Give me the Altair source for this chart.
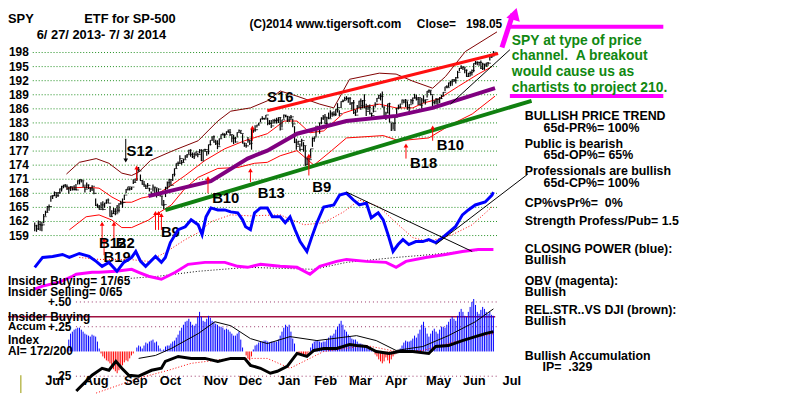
import altair as alt
import pandas as pd

FONT = "Liberation Sans"
NB = "\u00a0"

# ---------------- price bars (SPY, 6/27/2013 - 7/3/2014) ----------------
closes = [161.08,160.42,
 161.36,161.21,161.28,163.02,163.95,165.13,165.19,167.44,167.51,168.15,167.52,168.11,168.94,169.40,169.71,169.40,168.94,169.30,169.42,168.87,168.84,168.71,
 170.66,170.95,170.70,169.73,168.87,169.76,169.11,168.95,169.50,168.00,165.46,165.10,164.55,165.53,164.56,165.94,166.58,165.90,163.03,163.68,164.17,163.65,
 164.39,165.75,165.96,166.04,167.63,168.87,169.40,168.95,169.33,170.31,171.07,173.05,172.76,170.72,169.93,169.53,169.04,169.69,168.91,168.01,
 169.34,169.18,167.62,168.89,167.43,165.48,165.60,169.17,170.26,170.94,169.70,172.07,173.27,174.40,174.40,175.40,174.57,175.15,175.95,176.23,177.17,176.29,175.79,
 176.21,176.83,176.27,177.17,174.93,177.29,177.32,176.96,178.38,179.29,180.05,178.94,178.57,177.95,179.62,180.55,180.40,180.51,181.12,181.00,
 180.53,179.75,179.73,178.94,180.94,181.40,180.75,178.72,178.13,178.11,179.22,178.65,181.70,181.49,181.56,182.53,183.01,183.89,183.95,183.82,184.69,
 182.92,182.89,182.36,183.48,183.52,183.64,184.14,181.69,183.67,184.66,184.42,183.64,184.18,184.30,182.79,178.89,178.01,179.07,177.35,179.23,178.18,
 174.17,175.39,175.17,177.48,179.68,180.01,181.98,182.07,183.01,184.02,184.24,182.86,184.08,183.89,184.91,184.84,184.85,185.82,186.29,
 184.98,187.58,187.75,188.18,188.26,188.16,187.23,187.28,185.18,184.66,186.33,187.66,186.66,187.75,186.20,185.43,186.31,184.97,184.58,185.49,187.01,
 188.25,188.88,188.63,186.40,184.34,185.10,187.09,183.16,181.51,182.94,184.20,186.13,186.39,187.04,187.89,187.45,187.83,186.29,186.88,187.75,188.31,
 188.33,188.06,188.42,186.78,187.88,187.68,187.96,189.79,189.96,189.06,187.40,187.66,188.05,186.80,188.18,188.73,189.53,190.71,190.52,191.52,191.78,
 192.20,192.07,192.63,193.78,194.66,194.92,194.87,194.23,192.91,193.55,193.75,194.18,195.68,195.92,195.94,195.87,194.65,195.54,195.32,195.77,195.72,
 197.03,197.23,198.05]
highs = [161.8,161.3,
 162.2,162.1,161.9,163.6,164.3,165.3,165.6,167.5,167.6,168.4,168.2,168.3,169.0,169.6,169.8,170.0,169.9,169.4,169.5,169.3,169.7,170.0,
 170.8,171.0,170.9,170.7,169.5,170.3,169.9,169.2,169.7,169.1,166.9,165.8,165.5,166.1,166.3,166.0,166.7,166.9,165.3,164.4,164.9,164.8,
 165.5,165.9,166.4,166.9,167.7,168.9,169.4,169.3,169.4,171.0,171.1,173.3,173.6,172.0,170.8,170.6,169.9,170.2,169.2,168.4,
 169.9,169.3,169.1,169.1,168.2,167.5,166.6,169.4,170.5,171.1,170.9,172.1,173.3,174.4,174.8,176.1,175.1,175.4,176.1,176.4,177.3,177.4,176.7,
 176.7,176.9,176.6,177.4,177.4,177.3,177.5,177.0,178.4,179.3,180.1,180.3,179.4,179.3,179.7,180.6,180.9,180.8,181.2,181.6,
 181.7,180.4,180.5,180.0,181.0,181.6,181.3,180.6,178.8,178.7,180.0,179.3,181.7,181.6,182.5,182.6,183.0,183.9,184.4,184.1,184.7,
 184.1,183.6,183.6,183.8,183.9,184.1,184.2,184.2,183.7,184.8,184.7,184.5,184.4,184.7,183.9,182.3,179.6,179.2,178.6,179.6,178.9,
 178.1,175.8,175.6,177.5,179.9,180.1,182.4,182.4,183.1,184.2,184.7,184.9,184.3,185.2,185.7,185.4,185.5,185.9,187.2,
 185.7,187.6,188.0,188.6,188.7,188.4,188.5,187.4,187.9,185.8,186.8,187.7,188.2,187.9,189.1,187.1,186.8,186.9,185.2,186.6,187.4,
 188.3,189.0,189.3,189.7,186.5,185.4,187.1,187.3,183.0,183.1,184.4,186.2,186.9,187.1,188.0,187.9,188.1,187.6,187.0,188.1,188.4,
 189.2,189.0,188.5,188.3,188.3,188.9,188.0,189.8,190.1,189.9,188.9,187.8,188.3,188.2,188.5,189.0,189.6,190.7,191.0,191.6,192.0,
 192.3,192.3,192.8,194.1,194.7,195.3,195.0,194.8,194.4,193.7,194.0,194.4,195.7,196.2,196.1,196.0,196.3,195.8,195.6,195.8,196.0,
 197.7,197.5,198.3]
lows = [159.9,159.8,
 160.2,160.0,159.9,161.6,163.2,163.9,164.3,166.2,166.8,167.4,167.0,167.2,167.9,168.4,169.1,169.3,168.7,167.9,168.5,168.6,168.6,168.6,
 169.9,169.9,170.3,169.3,168.2,169.0,168.9,168.3,168.5,167.8,165.3,164.9,164.5,164.7,164.4,164.9,165.8,165.9,163.0,163.0,163.6,163.3,
 163.8,163.9,165.6,164.9,166.6,168.0,168.6,168.6,168.7,170.0,170.3,170.6,172.6,170.6,169.8,169.4,168.9,169.2,168.4,167.4,
 168.4,167.9,167.1,167.5,167.3,165.4,164.6,167.2,168.8,169.3,169.6,170.6,171.6,173.3,173.8,174.3,174.1,174.6,175.2,175.5,176.3,175.8,175.5,
 175.3,176.0,175.7,176.5,174.9,175.0,176.8,176.0,176.3,178.2,179.3,178.8,178.3,177.4,178.2,179.6,180.3,179.8,180.6,180.9,
 180.2,178.9,178.5,178.8,179.9,181.0,180.7,178.6,177.9,177.7,178.8,178.3,177.3,180.9,181.1,182.0,182.5,183.2,183.7,183.7,183.9,
 182.5,182.6,181.9,182.9,182.9,182.9,183.0,181.4,182.0,183.9,184.2,183.2,183.2,183.6,182.1,178.7,177.3,178.3,177.0,178.0,176.9,
 173.8,174.1,173.7,175.4,177.9,179.0,180.1,181.7,180.7,182.7,183.6,182.8,182.6,183.8,184.0,184.3,184.4,184.5,185.2,
 184.4,186.2,187.4,187.8,187.8,187.3,186.8,185.8,184.9,184.5,185.2,186.3,185.8,186.1,186.1,184.5,185.7,184.8,183.9,185.2,186.3,
 187.4,188.2,187.8,186.3,184.0,183.6,185.1,183.1,181.3,181.7,181.3,184.9,185.9,186.1,187.2,187.2,186.4,185.8,184.7,187.1,187.0,
 188.2,187.8,186.8,186.7,186.0,187.3,186.9,188.4,189.4,188.9,186.4,186.9,186.9,186.5,187.2,188.1,188.7,189.8,190.4,190.6,190.8,
 190.9,191.7,191.4,192.5,194.0,194.5,194.3,193.6,192.8,192.8,192.9,193.1,193.8,195.4,195.3,195.2,194.5,194.3,194.3,194.9,195.2,
 196.3,196.9,197.3]

# bands / trend lines: (day index, price)
upper_band_d = [17.7,24.9,34.3,41.4,48.6,54.1,58.0,64.6,77.3,91.2,102.2,109.4,120.4,129.8,137.0,146.4,159.1,166.9,175.7,192.3,201.7,211.0,222.1,229.3,240.3,258.0]
upper_band_p = [172.1,174.6,175.4,174.4,172.3,171.8,172.5,175.0,177.1,179.2,183.4,185.5,186.2,187.7,189.8,188.7,187.0,186.2,192.3,193.6,193.4,191.9,190.4,192.9,198.2,202.4]
mid_band_d = [17.7,28.7,35.9,43.1,48.6,54.1,59.7,67.4,76.2,84.0,95.0,106.1,117.1,129.8,139.2,146.4,153.6,161.3,172.4,181.2,192.3,201.7,211.0,216.6,225.4,236.5,247.5,255.2]
mid_band_p = [169.1,169.3,169.1,167.2,166.1,166.1,167.0,167.6,169.7,171.8,175.0,177.5,179.2,180.7,183.4,183.4,180.9,181.3,185.1,186.2,187.0,186.2,186.2,187.2,188.1,190.8,193.4,195.0]
low_band_d = [19.3,28.7,35.9,43.1,48.6,54.1,63.5,69.1,76.2,84.0,91.2,102.2,113.3,122.7,129.8,137.0,146.4,155.8,165.7,174.0,194.5,203.3,219.9,233.1,244.2,256.9]
low_band_p = [160.2,163.0,163.4,162.3,160.7,160.7,162.3,163.8,165.5,169.1,171.4,173.3,173.5,174.4,174.6,176.0,177.1,174.0,177.1,179.8,180.3,179.2,179.8,182.8,184.9,188.7]
ma65_d = [63.5,98.3,118.8,129.8,146.4,174.0,201.7,222.1,256.9]
ma65_p = [167.4,170.6,175.4,177.1,180.7,183.4,184.5,186.2,190.4]
resist_d = [129.8,258.6]
resist_p = [185.6,197.8]
support_d = [72.9,277.3]
support_p = [164.4,187.7]
channel_d = [232.0,265.2]
channel_p = [187.0,198.6]

# signal arrows (day index, tip price, tail price)
buy_d = [37.6,44.2,38.7,67.4,69.1,70.7,96.7,120.4,121.5,56.9,153.0,207.2,222.1]
buy_top = [161.5,161.5,158.1,163.8,163.8,163.4,171.2,172.9,182.0,173.5,176.0,178.2,182.0]
buy_bot = [158.1,158.1,154.8,160.2,160.2,160.2,168.0,170.4,179.2,170.8,171.8,175.4,179.2]
sell_d = [50.8]
sell_top = [179.6]
sell_bot = [175.0]
sig_text = ["S12","S16","B10","B13","B9","B9","B18","B10","B12","B2","B19"]
sig_d = [58.6,137.0,106.6,132.0,75.7,160.2,217.0,232.0,43.5,50.5,46.0]
sig_p = [177.1,188.5,167.0,168.0,159.8,169.3,174.4,178.2,157.5,157.5,154.5]

# closing power (blue) and its MA, OBV (magenta) and its MA  (panel units)
cp_d = [0,4.4,10,15.5,19.3,24.9,30.4,34.3,37.6,41.4,45.9,49.7,54.1,56.4,59.1,61.9,67.4,70.7,72.9,75.7,80.1,84,87.3,91.2,93.4,95.6,98.3,102.2,106.1,109.4,113.3,116,117.7,120.4,122.7,126,129.8,132.6,137,139.8,142.5,145.3,148.1,151.9,154.7,157.5,161.3,166.9,170.2,174,177.9,181.2,185.1,187.8,191.7,194.5,197.2,200,202.8,205.5,208.8,212.7,216.6,219.9,223.8,227.6,230.9,234.8,238.7,242,245.9,251.4,255.2,256]
cp_v = [12,22,23,25,22,26,23,18,13,17,8,17,22,28,18,13,23,17,22,37,50,53,60,55,45,63,72,70,70,68,67,60,53,50,67,72,72,63,63,57,63,50,38,28,43,57,73,75,85,87,80,75,77,62,67,60,45,28,35,40,35,38,38,40,37,42,47,53,65,70,75,78,85,88]
cpma_d = [24.9,35.9,52.5,63.5,72.9,84,91.2,98.3,109.4,120.4,137,150.3,161.3,172.4,181.2,192.3,201.7,211,219.9,233.1,244.2,255.2]
cpma_v = [22,20,20,18,27,40,47,58,65,64,65,55,57,68,80,73,57,42,38,45,55,73]
obv_d = [0,4.4,13.8,21,23.2,32,35.9,45.3,54.1,58,63.5,70.7,78.5,85.6,95,106.1,113.3,118.8,126,137,146.4,153.6,159.1,168.5,174,185.1,196.1,201.7,207.2,218.2,229.3,238.7,247.5,256]
obv_v = [-10,-7,-3,3,5,7,7,8,10,7,3,0,7,15,17,17,13,12,15,13,12,5,13,18,20,18,17,12,18,22,25,28,30,30]
obvma_d = [47,69,91.2,118.8,155.8,174,201.7,222.1,238.7,256]
obvma_v = [0,3,8,12,10,17,22,25,28,30]
cp_down_d = [174.0,244.2]
cp_down_v = [88,28]
cp_up_d = [223.8,275.1]
cp_up_v = [35,106]

# accumulation index, day by day from day 19
ai = [0.12,0.18,0.20,0.22,0.23,0.24,0.24,0.22,0.20,0.18,0.17,0.16,0.15,0.17,0.16,0.15,0.10,0.03,
      -0.02,-0.05,-0.07,-0.09,-0.10,-0.12,-0.15,-0.18,-0.20,-0.22,-0.19,-0.16,-0.14,-0.11,-0.09,-0.10,-0.07,-0.04,-0.02,0.00,
      0.04,0.06,0.05,0.03,0.06,0.09,0.08,0.10,0.11,0.12,0.09,0.10,0.06,0.03,0.01,0.02,0.05,0.06,0.06,
      0.08,0.10,0.11,0.14,0.17,0.21,0.24,0.27,0.30,0.31,0.33,0.30,0.27,0.26,0.28,0.35,0.40,0.35,0.31,0.30,0.33,0.36,0.34,0.31,0.30,
      0.28,0.27,0.25,0.25,0.24,0.22,0.23,0.22,0.20,0.18,0.16,0.16,0.18,0.20,0.12,0.04,0.00,-0.04,-0.07,-0.09,-0.05,0.02,0.06,0.07,0.09,0.10,0.10,0.11,0.11,0.10,
      0.09,0.10,0.10,0.10,0.10,0.12,0.16,0.20,0.24,0.27,0.25,0.27,0.20,0.13,0.08,0.00,-0.02,-0.03,-0.04,-0.03,
      -0.05,-0.04,-0.01,0.04,0.08,0.10,0.11,0.11,0.10,0.09,0.10,0.10,0.12,0.14,0.16,0.16,0.18,0.22,0.25,0.28,0.31,0.27,0.22,0.20,0.17,0.15,0.13,0.12,0.12,0.10,
      0.08,0.08,0.07,0.05,0.05,0.04,0.03,0.01,0.00,-0.03,-0.05,-0.08,-0.10,-0.12,-0.10,-0.06,-0.09,-0.12,-0.08,-0.05,-0.03,-0.02,0.00,0.03,0.06,0.09,
      0.11,0.10,0.10,0.11,0.13,0.16,0.14,0.18,0.22,0.27,0.30,0.24,0.18,0.15,0.18,0.21,0.23,0.20,0.18,0.22,0.25,0.25,0.24,0.27,
      0.30,0.33,0.35,0.33,0.31,0.36,0.40,0.43,0.40,0.36,0.35,0.40,0.45,0.50,0.53,0.47,0.40,0.38,0.42,0.45,0.43,0.40,0.38,0.40,0.37,0.36]
ai_start = 19
rs_d = [23.2,32,37.6,41.4,45.3,48.6,52.5,58,65.2,70.7,72.9,80.1,87.3,95,102.2,109.4,117.1,120.4,126,131.5,135.4,140.9,146.4,151.9,155.8,161.3,168.5,175.7,179.6,185.1,190.6,197.8,203.3,211,219.9,223.8,230.9,238.7,245.9,251.4,256]
rs_v = [-0.40,-0.24,-0.17,-0.19,-0.10,-0.17,-0.24,-0.25,-0.19,-0.17,-0.10,-0.05,-0.07,-0.07,-0.10,-0.07,-0.07,-0.14,-0.17,-0.22,-0.20,-0.15,-0.02,-0.05,0.01,0.03,0.03,0.07,0.06,0.05,0.00,-0.02,0.00,0.00,-0.02,0.05,0.06,0.11,0.15,0.18,0.20]
rsma_d = [34.3,58,74.6,87.3,109.4,129.8,142.5,161.3,185.1,201.7,216.6,234.8,256]
rsma_v = [-0.42,-0.27,-0.19,-0.12,-0.07,-0.07,-0.17,0.00,0.06,0.00,0.01,0.10,0.18]
aima_d = [58,67.4,76.2,91.2,100.6,109.4,120.4,129.8,142.5,157.5,179.6,190.6,201.7,216.6,230.9,245.9,256]
aima_v = [-0.07,-0.04,0.03,0.18,0.30,0.26,0.13,0.08,0.15,0.11,0.16,0.11,0.01,0.05,0.16,0.30,0.43]

grid_prices = [198,195,192,189,186,183,180,177,174,171,168,165,162,159]
ai_grid = [0.50,0.25,-0.25]
ai_grid_labels = ["+.50","+.25","-" + NB + ".25"]
insider_level = [0.35]
month_names = ["Jul","Aug","Sep","Oct","Nov","Dec","Jan","Feb","Mar","Apr","May","Jun","Jul"]
month_pos = [11.0,34.3,56.4,75.7,101.1,120.4,142.0,162.4,181.8,201.7,225.4,245.3,266.3]

# ---------------- scales ----------------
def xs():
    return alt.Scale(domain=[0, 256], range=[27, 27 + 256 * 1.81], nice=False, zero=False)

def X(f):
    return alt.X(f, type="quantitative", scale=xs(), axis=None)

def YP(f):
    return alt.Y(f, type="quantitative", scale=alt.Scale(domain=[159, 198], range=[227.9, 43], nice=False, zero=False), axis=None)

def YC(f):
    return alt.Y(f, type="quantitative", scale=alt.Scale(domain=[0, 100], range=[272, 172], nice=False, zero=False), axis=None)

def YA(f):
    return alt.Y(f, type="quantitative", scale=alt.Scale(domain=[-0.25, 0.5], range=[370, 295], nice=False, zero=False), axis=None)

def line_df(d, v):
    return pd.DataFrame({"d": d, "v": v})

n = min(len(closes), len(highs), len(lows))
bars = pd.DataFrame({"d": list(range(n)), "c": closes[:n], "h": highs[:n], "l": lows[:n]})
ai_df = pd.DataFrame({"d": list(range(ai_start, ai_start + len(ai))), "a": ai, "z": [0.0] * len(ai)})

layers = []

# price gridlines (green dotted)
gdf = pd.DataFrame({"p": grid_prices, "d0": [-1.1] * len(grid_prices), "d1": [258.0] * len(grid_prices)})
layers.append(alt.Chart(gdf).mark_rule(color="#1f8f1f", strokeDash=[1, 2], strokeWidth=1).encode(
    x=X("d0"), x2=alt.X2("d1"), y=YP("p")))
layers.append(alt.Chart(gdf).mark_text(font=FONT, fontWeight="bold", fontSize=12, align="right", baseline="middle", color="black").encode(
    x=alt.value(21), y=YP("p"), text=alt.Text("p:Q")))

# bands
for d, p, col, w in [(upper_band_d, upper_band_p, "#800000", 1), (mid_band_d, mid_band_p, "#ff0000", 1), (low_band_d, low_band_p, "#ff0000", 1)]:
    layers.append(alt.Chart(line_df(d, p)).mark_line(color=col, strokeWidth=w).encode(x=X("d"), y=YP("v")))

# price bars
layers.append(alt.Chart(bars).mark_rule(color="black", strokeWidth=1.2).encode(x=X("d"), y=YP("l"), y2=alt.Y2("h")))
layers.append(alt.Chart(bars).mark_tick(color="black", orient="horizontal", size=3, thickness=1, xOffset=1.5).encode(x=X("d"), y=YP("c")))

# trend lines
layers.append(alt.Chart(line_df(ma65_d, ma65_p)).mark_line(color="#800080", strokeWidth=4).encode(x=X("d"), y=YP("v")))
layers.append(alt.Chart(line_df(support_d, support_p)).mark_line(color="#108010", strokeWidth=4).encode(x=X("d"), y=YP("v")))
layers.append(alt.Chart(line_df(resist_d, resist_p)).mark_line(color="#ff1010", strokeWidth=3).encode(x=X("d"), y=YP("v")))
layers.append(alt.Chart(line_df(channel_d, channel_p)).mark_line(color="black", strokeWidth=1).encode(x=X("d"), y=YP("v")))

# signal arrows
bdf = pd.DataFrame({"d": buy_d, "t": buy_top, "b": buy_bot})
layers.append(alt.Chart(bdf).mark_rule(color="red", strokeWidth=1).encode(x=X("d"), y=YP("t"), y2=alt.Y2("b")))
layers.append(alt.Chart(bdf).mark_point(shape="triangle-up", filled=True, size=22, color="red", opacity=1).encode(x=X("d"), y=YP("t")))
sdf = pd.DataFrame({"d": sell_d, "t": sell_top, "b": sell_bot})
layers.append(alt.Chart(sdf).mark_rule(color="black", strokeWidth=1).encode(x=X("d"), y=YP("t"), y2=alt.Y2("b")))
layers.append(alt.Chart(sdf).mark_point(shape="triangle-down", filled=True, size=22, color="black", opacity=1).encode(x=X("d"), y=YP("b")))
tdf = pd.DataFrame({"d": sig_d, "p": sig_p, "s": sig_text})
layers.append(alt.Chart(tdf).mark_text(font=FONT, fontWeight="bold", fontSize=15, color="black", baseline="middle").encode(
    x=X("d"), y=YP("p"), text="s:N"))

# closing power / OBV panel
layers.append(alt.Chart(line_df(obvma_d, obvma_v)).mark_line(color="black", strokeWidth=1, strokeDash=[1, 2]).encode(x=X("d"), y=YC("v")))
layers.append(alt.Chart(line_df(obv_d, obv_v)).mark_line(color="#ff00ff", strokeWidth=3).encode(x=X("d"), y=YC("v")))
layers.append(alt.Chart(line_df(cpma_d, cpma_v)).mark_line(color="red", strokeWidth=1, strokeDash=[1, 2]).encode(x=X("d"), y=YC("v")))
layers.append(alt.Chart(line_df(cp_d, cp_v)).mark_line(color="#0000ff", strokeWidth=3).encode(x=X("d"), y=YC("v")))
layers.append(alt.Chart(line_df(cp_down_d, cp_down_v)).mark_line(color="black", strokeWidth=1).encode(x=X("d"), y=YC("v")))
layers.append(alt.Chart(line_df(cp_up_d, cp_up_v)).mark_line(color="black", strokeWidth=1).encode(x=X("d"), y=YC("v")))

# accumulation index panel
agdf = pd.DataFrame({"a": ai_grid, "d0": [23.0] * 3, "d1": [258.0] * 3, "lab": ai_grid_labels})
layers.append(alt.Chart(agdf).mark_rule(color="#993366", strokeDash=[1, 3], strokeWidth=1).encode(x=X("d0"), x2=alt.X2("d1"), y=YA("a")))
layers.append(alt.Chart(agdf).mark_text(font=FONT, fontWeight="bold", fontSize=12, align="right", baseline="middle", color="black").encode(
    x=alt.value(64), y=YA("a"), text="lab:N"))
idf = pd.DataFrame({"a": insider_level, "d0": [-15.0], "d1": [257.0]})
layers.append(alt.Chart(idf).mark_rule(color="#a01040", strokeWidth=1.5).encode(x=X("d0"), x2=alt.X2("d1"), y=YA("a")))
layers.append(alt.Chart(ai_df).mark_rule(strokeWidth=1).encode(
    x=X("d"), y=YA("z"), y2=alt.Y2("a"),
    color=alt.condition(alt.datum.a >= 0, alt.value("#0000ff"), alt.value("#ff0000"))))
layers.append(alt.Chart(line_df(aima_d, aima_v)).mark_line(color="black", strokeWidth=1).encode(x=X("d"), y=YA("v")))
layers.append(alt.Chart(line_df(rsma_d, rsma_v)).mark_line(color="red", strokeWidth=1, strokeDash=[1, 2]).encode(x=X("d"), y=YA("v")))
layers.append(alt.Chart(line_df(rs_d, rs_v)).mark_line(color="black", strokeWidth=3).encode(x=X("d"), y=YA("v")))

# month labels
mdf = pd.DataFrame({"d": month_pos, "m": month_names})
layers.append(alt.Chart(mdf).mark_text(font=FONT, fontWeight="bold", fontSize=13, color="black", baseline="middle").encode(
    x=X("d"), y=alt.value(375), text="m:N"))

one = pd.DataFrame({"k": [0]})

def txt(s, x, y, size=12, color="black", align="left"):
    return alt.Chart(one).mark_text(font=FONT, fontWeight="bold", fontSize=size, color=color, align=align, baseline="middle").encode(
        x=alt.value(x - 8), y=alt.value(y - 8), text=alt.value(s))

def seg(x1, y1, x2, y2, color, w):
    return alt.Chart(one).mark_rule(color=color, strokeWidth=w).encode(
        x=alt.value(x1 - 8), y=alt.value(y1 - 8), x2=alt.value(x2 - 8), y2=alt.value(y2 - 8))

# headline texts
layers += [
    txt("SPY", 8, 17, 13),
    txt("ETF for SP-500", 85, 17, 13),
    txt("6/ 27/ 2013- 7/ 3/ 2014", 37, 33, 13),
    txt("(C)2014 www.tigersoft.com", 252, 22, 12),
    txt("Close=" + NB + NB + NB + "198.05", 421, 22, 12),
]
# magenta call-out
layers += [
    seg(507, 46, 518, 12, "#ff00ff", 5),
    alt.Chart(one).mark_point(shape="triangle-up", filled=True, size=200, color="#ff00ff", opacity=1, angle=17).encode(
        x=alt.value(512), y=alt.value(4)),
    seg(515, 25, 670, 25, "#ff00ff", 4),
    seg(515, 95, 670, 95, "#ff00ff", 4),
    txt("SPY at type of price", 517, 39, 14, "#118811"),
    txt("channel." + NB + NB + "A breakout", 517, 55, 14, "#118811"),
    txt("would cause us as", 517, 71, 14, "#118811"),
    txt("chartists to project 210.", 517, 87, 14, "#118811"),
]
# right-hand status texts
right = [("BULLISH PRICE TREND", 530, 115), ("65d-PR%= 100%", 549, 127), ("Public is bearish", 530, 143),
         ("65d-OP%= 65%", 549, 155), ("Professionals are bullish", 530, 171), ("65d-CP%= 100%", 549, 183),
         ("CP%vsPr%=" + NB + NB + "0%", 530, 203), ("Strength Profess/Pub= 1.5", 530, 221), ("CLOSING POWER (blue):", 530, 250),
         ("Bullish", 530, 261), ("OBV (magenta):", 530, 282), ("Bullish", 530, 293), ("REL.STR..VS DJI (brown):", 530, 311),
         ("Bullish", 530, 322), ("Bullish Accumulation", 530, 358), ("IP=" + NB + NB + ".329", 548, 369)]
layers += [txt(s, x, y, 12.5) for s, x, y in right]
# left-hand panel texts
layers += [
    txt("Insider Buying= 17/65", 8, 282, 12),
    txt("Insider Selling= 0/65", 8, 293, 12),
    txt("Insider Buying", 8, 318, 12),
    txt("Accum", 8, 328, 11.5),
    txt("Index", 8, 341, 12),
    txt("AI= 172/200", 8, 353, 12),
    seg(21, 377, 21, 395, "#999900", 1),
]

chart = alt.layer(*layers).resolve_scale(y="independent").properties(
    width=792, height=387, autosize=alt.AutoSizeParams(type="none"), padding=0, background="white"
).configure_view(stroke=None)

chart.save("out.html", embed_options={"renderer": "svg", "actions": False})
